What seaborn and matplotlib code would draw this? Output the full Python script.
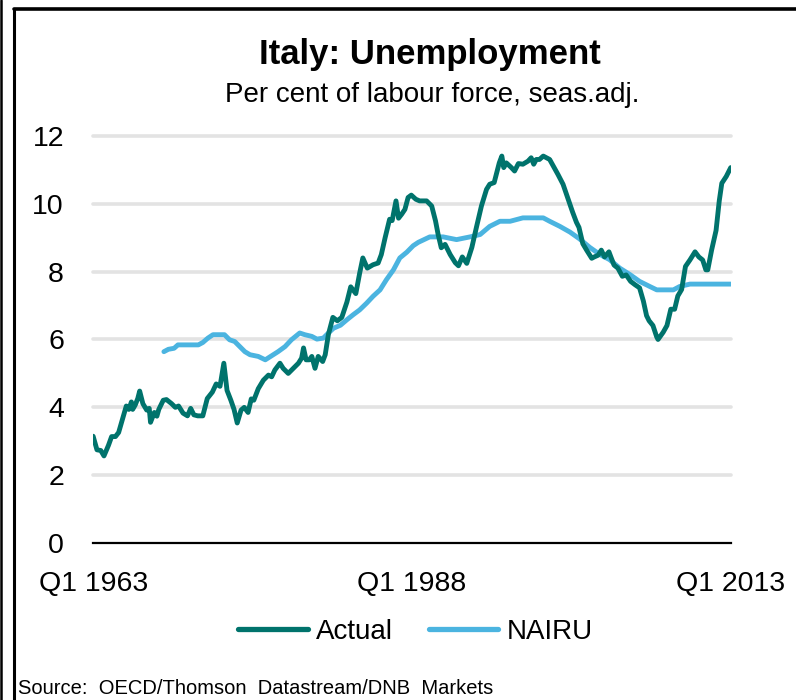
import numpy as np
import pandas as pd
import matplotlib
matplotlib.use("Agg")
import matplotlib.pyplot as plt
from matplotlib.lines import Line2D
import seaborn as sns

# ---------------- data ----------------
actual_dates = [1963.0, 1963.3, 1963.6, 1963.85, 1964.2, 1964.45, 1964.75, 1965.0, 1965.4, 1965.6,
                1965.8, 1966.0, 1966.1, 1966.3, 1966.5, 1966.65, 1966.9, 1967.2, 1967.4, 1967.5,
                1967.8, 1968.0, 1968.15, 1968.5, 1968.75, 1969.15, 1969.45, 1969.7, 1970.05, 1970.4,
                1970.65, 1970.9, 1971.2, 1971.6, 1971.95, 1972.35, 1972.65, 1972.95, 1973.25, 1973.5,
                1973.8, 1974.05, 1974.3, 1974.6, 1974.85, 1975.15, 1975.4, 1975.6, 1975.95, 1976.35,
                1976.75, 1977.0, 1977.25, 1977.65, 1977.9, 1978.3, 1978.7, 1979.1, 1979.35, 1979.5,
                1979.7, 1979.95, 1980.15, 1980.4, 1980.65, 1981.0, 1981.2, 1981.45, 1981.8, 1982.15,
                1982.5, 1982.9, 1983.2, 1983.6, 1983.9, 1984.15, 1984.5, 1984.95, 1985.35, 1985.6,
                1985.9, 1986.25, 1986.45, 1986.75, 1986.95, 1987.2, 1987.45, 1987.7, 1987.95, 1988.3,
                1988.6, 1989.15, 1989.55, 1989.85, 1990.05, 1990.3, 1990.6, 1991.0, 1991.4, 1991.65,
                1991.95, 1992.3, 1992.7, 1993.05, 1993.45, 1993.85, 1994.1, 1994.45, 1994.65, 1994.85,
                1995.05, 1995.2, 1995.4, 1995.8, 1996.05, 1996.35, 1996.7, 1997.1, 1997.35, 1997.55,
                1997.75, 1998.0, 1998.3, 1998.55, 1998.8, 1999.1, 1999.45, 1999.85, 2000.25, 2000.6,
                2000.9, 2001.1, 2001.4, 2001.7, 2002.1, 2002.3, 2002.6, 2002.85, 2003.1, 2003.45,
                2003.6, 2003.85, 2004.15, 2004.5, 2004.8, 2005.15, 2005.5, 2005.85, 2006.15, 2006.4,
                2006.6, 2006.9, 2007.2, 2007.3, 2007.7, 2008.0, 2008.3, 2008.6, 2008.85, 2009.15,
                2009.45, 2009.8, 2010.2, 2010.5, 2010.8, 2011.05, 2011.2, 2011.5, 2011.85, 2012.1,
                2012.3, 2012.65, 2013.0]
actual_values = [3.15, 2.75, 2.73, 2.57, 2.88, 3.14, 3.14, 3.26, 3.78, 4.04,
                 3.94, 4.16, 3.94, 4.07, 4.26, 4.48, 4.11, 3.92, 3.97, 3.56,
                 3.85, 3.74, 3.94, 4.21, 4.23, 4.11, 4.00, 4.04, 3.83, 3.75,
                 3.97, 3.78, 3.75, 3.75, 4.26, 4.45, 4.69, 4.62, 5.30, 4.50,
                 4.21, 3.94, 3.54, 3.92, 4.00, 3.85, 4.25, 4.21, 4.55, 4.80,
                 4.95, 4.90, 5.10, 5.30, 5.15, 5.00, 5.15, 5.30, 5.45, 5.75,
                 5.40, 5.40, 5.50, 5.15, 5.50, 5.35, 5.55, 6.15, 6.65, 6.55,
                 6.65, 7.10, 7.55, 7.35, 7.95, 8.40, 8.10, 8.20, 8.25, 8.50,
                 9.00, 9.54, 9.50, 10.08, 9.57, 9.69, 9.83, 10.18, 10.25, 10.13,
                 10.08, 10.08, 9.93, 9.49, 9.10, 8.70, 8.80, 8.50, 8.26, 8.17,
                 8.43, 8.24, 8.71, 9.29, 9.93, 10.42, 10.57, 10.62, 10.91, 11.20,
                 11.40, 11.06, 11.20, 11.06, 10.96, 11.18, 11.16, 11.25, 11.35, 11.16,
                 11.30, 11.30, 11.40, 11.35, 11.30, 11.10, 10.86, 10.57, 10.13, 9.75,
                 9.45, 9.30, 8.82, 8.63, 8.39, 8.43, 8.48, 8.63, 8.43, 8.58,
                 8.43, 8.19, 8.10, 7.86, 7.90, 7.71, 7.61, 7.52, 7.13, 6.70,
                 6.55, 6.41, 6.07, 6.00, 6.21, 6.41, 6.89, 6.89, 7.28, 7.47,
                 8.15, 8.34, 8.58, 8.43, 8.34, 8.05, 8.05, 8.63, 9.21, 10.08,
                 10.60, 10.80, 11.06]

nairu_dates = [1968.55, 1968.9, 1969.35, 1969.65, 1970.45, 1971.25, 1971.6, 1972.0, 1972.4, 1973.3,
               1973.7, 1974.1, 1974.5, 1974.9, 1975.3, 1975.95, 1976.5, 1977.0, 1977.5, 1978.05,
               1978.55, 1979.2, 1979.6, 1980.15, 1980.55, 1981.05, 1981.45, 1981.85, 1982.4, 1982.9,
               1983.4, 1983.9, 1984.45, 1984.95, 1985.5, 1986.0, 1986.55, 1987.05, 1987.6, 1988.1,
               1988.5, 1989.4, 1990.45, 1991.5, 1992.55, 1993.35, 1994.1, 1994.9, 1995.7, 1996.7,
               1998.3, 1998.8, 1999.6, 2000.4, 2001.15, 2001.95, 2002.75, 2003.5, 2004.3, 2005.1,
               2005.85, 2006.65, 2007.2, 2008.5, 2009.0, 2009.8, 2013.0]
nairu_values = [5.64, 5.71, 5.74, 5.84, 5.84, 5.84, 5.91, 6.04, 6.14, 6.14,
                5.99, 5.94, 5.79, 5.64, 5.55, 5.50, 5.40, 5.52, 5.64, 5.79,
                5.99, 6.19, 6.14, 6.09, 6.01, 6.04, 6.19, 6.33, 6.42, 6.58,
                6.73, 6.87, 7.07, 7.27, 7.46, 7.76, 8.05, 8.40, 8.57, 8.76,
                8.86, 9.02, 9.02, 8.94, 9.02, 9.09, 9.33, 9.48, 9.48, 9.58,
                9.58, 9.48, 9.33, 9.16, 8.96, 8.71, 8.50, 8.35, 8.10, 7.91,
                7.71, 7.56, 7.46, 7.46, 7.56, 7.63, 7.63]

series_names = ["Actual", "NAIRU"]
tick_years = [1963, 1968, 1973, 1978, 1983, 1988, 1993, 1998, 2003, 2008, 2013]
tick_labels = ["Q1 1963", "", "", "", "", "Q1 1988", "", "", "", "", "Q1 2013"]
y_ticks = [0, 2, 4, 6, 8, 10, 12]

title = "Italy: Unemployment"
subtitle = "Per cent of labour force, seas.adj."
source = "Source:  OECD/Thomson  Datastream/DNB  Markets"

# ---------------- figure ----------------
sns.set_style("white")
plt.rcParams["font.family"] = ["Liberation Sans", "DejaVu Sans"]
plt.rcParams["text.color"] = "black"
plt.rcParams["xtick.color"] = "black"
plt.rcParams["ytick.color"] = "black"

df = pd.concat([
    pd.DataFrame({"date": actual_dates, "value": actual_values, "series": series_names[0]}),
    pd.DataFrame({"date": nairu_dates, "value": nairu_values, "series": series_names[1]}),
], ignore_index=True)

colors = {"Actual": "#00736C", "NAIRU": "#4BB4E0"}

fig = plt.figure(figsize=(7.96, 7.0), dpi=100)
ax = fig.add_axes([0.117, 0.224, 0.801, 0.587])

for yv in y_ticks[1:]:
    ax.axhline(yv, color="#E3E3E3", lw=2.6, zorder=0, clip_on=False)

sns.lineplot(data=df, x="date", y="value", hue="series", palette=colors,
             hue_order=series_names[::-1], lw=3.5, ax=ax, legend=False,
             estimator=None, sort=True)
for ln in ax.get_lines():
    ln.set_solid_capstyle("round")
    ln.set_solid_joinstyle("round")

ax.set_xlim(1963, 2013)
ax.set_ylim(0, 12.1)
ax.set_xlabel("")
ax.set_ylabel("")
for s in ["left", "right", "top"]:
    ax.spines[s].set_visible(False)
ax.spines["bottom"].set_color("black")
ax.spines["bottom"].set_linewidth(1.6)

ax.set_xticks(tick_years)
ax.set_xticklabels(tick_labels, fontsize=20.5, color="black")
ax.set_yticks(y_ticks)
ax.set_yticklabels([str(v) for v in y_ticks], fontsize=20.5, color="black")
ax.tick_params(axis="x", direction="in", length=7, width=1.6, color="black", pad=20)
ax.tick_params(axis="y", length=0, pad=21)

# titles
fig.text(0.540, 0.922, title, ha="center", va="center", fontsize=25, fontweight="bold",
         color="black")
fig.text(0.543, 0.864, subtitle, ha="center", va="center", fontsize=20, color="black")

# legend
handles = [Line2D([0], [0], color=colors[n], lw=3.8) for n in series_names]
fig.legend(handles, series_names, loc="center", bbox_to_anchor=(0.522, 0.097),
           ncol=2, frameon=False, fontsize=20, handlelength=2.5, columnspacing=1.3,
           handletextpad=0.3, labelcolor="black")

fig.text(0.022, 0.017, source, ha="left", va="center", fontsize=14.5, color="black")

# frame lines
fig.add_artist(Line2D([0.0015, 0.0015], [0, 1], transform=fig.transFigure, color="black", lw=1.8))
fig.add_artist(Line2D([0.018, 0.018], [0, 0.987], transform=fig.transFigure, color="black", lw=2.2))
fig.add_artist(Line2D([0.018, 1.0], [0.987, 0.987], transform=fig.transFigure, color="black", lw=2.6))

fig.savefig("out.png", dpi=100)
